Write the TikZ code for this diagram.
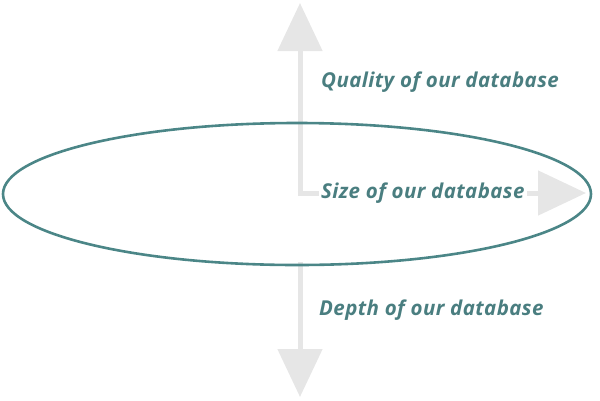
\documentclass[tikz,border=0pt]{standalone}
\usepackage{fontspec}
\setmainfont{Open Sans}[LetterSpace=2]
\usetikzlibrary{arrows.meta,shapes.geometric}
\definecolor{teal1}{HTML}{4B8687}
\definecolor{tealtext}{HTML}{4A7E80}
\definecolor{lightarrow}{HTML}{E6E6E6}
\tikzset{
  grayarrow/.style={draw=lightarrow, line width=5pt, -{Triangle[length=48pt,width=44pt]}},
  label/.style={text=tealtext, font=\fontsize{20.5}{24}\selectfont\bfseries\itshape, anchor=west, inner sep=2pt}
}
\begin{document}
\begin{tikzpicture}[x=1pt,y=-1pt]
\useasboundingbox (0,0) rectangle (600,400);
\coordinate (top) at (300,3);
\coordinate (corner) at (300,193);
\coordinate (right) at (586,193);
\coordinate (dstart) at (300,262);
\coordinate (bottom) at (300,397);
\draw[grayarrow] ([yshift=-2.5pt]corner) -- (top);
\draw[grayarrow] ([xshift=-2.5pt]corner) -- (right);
\draw[grayarrow] (dstart) -- (bottom);
\node[label] (quality) at (319,82) {Quality of our database};
\node[label, fill=white] (size) at (319,193) {Size of our database};
\node[label] (depth) at (317,310) {Depth of our database};
\node[draw=teal1, line width=2.6pt, ellipse, minimum width=588pt, minimum height=142pt, inner sep=0pt] (ell) at (297,194) {};
\end{tikzpicture}
\end{document}
